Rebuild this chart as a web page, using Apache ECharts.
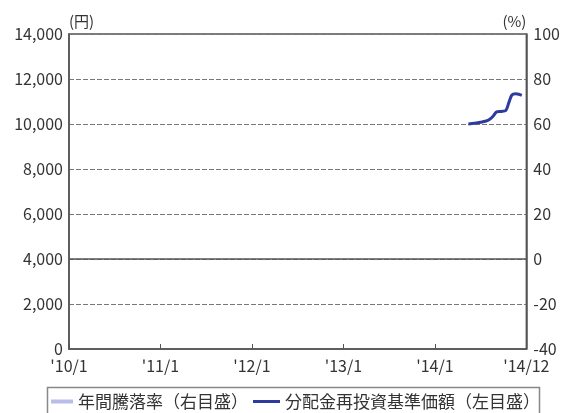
<!DOCTYPE html>
<html><head><meta charset="utf-8">
<script src="https://cdn.jsdelivr.net/npm/echarts@6/dist/echarts.min.js"></script>
<style>html,body{margin:0;padding:0;background:#fff}#c{width:563px;height:413px}</style>
</head><body><div id="c"></div>
<script>
// x in months since 2010/1
var xTickLabels = ["'10/1", "'11/1", "'12/1", "'13/1", "'14/1", "'14/12"];
var navMonths = [52.4, 53.2, 54.0, 54.6, 55.1, 55.6, 56.1, 56.7, 57.3, 57.7, 58.1, 58.6, 59.0, 59.4];
var navValues = [10000, 10030, 10080, 10120, 10190, 10330, 10540, 10560, 10600, 10950, 11290, 11340, 11320, 11270];
var annualReturn = [];
var seriesNames = ['年間騰落率（右目盛）', '分配金再投資基準価額（左目盛）'];

var FONT = '"Noto Sans CJK JP", "Noto Sans", sans-serif';
var navData = navMonths.map(function (m, i) { return [m, navValues[i]]; });

var chart = echarts.init(document.getElementById('c'));
chart.setOption({
  animation: false,
  textStyle: { fontFamily: FONT },
  grid: { left: 69, right: 36, top: 34, bottom: 64, show: true, borderColor: '#555', borderWidth: 1.5 },
  xAxis: {
    type: 'value', min: 0, max: 60, interval: 12,
    axisLine: { lineStyle: { color: '#555', width: 1.5 } },
    axisTick: { inside: true, length: 5, lineStyle: { color: '#555' } },
    splitLine: { show: false },
    axisLabel: { color: '#333', fontSize: 16, margin: 9, fontFamily: FONT,
      formatter: function (v) { return xTickLabels[Math.round(v / 12)]; } }
  },
  yAxis: [{
    type: 'value', min: 0, max: 14000, interval: 2000,
    name: '(円)', nameLocation: 'end', nameGap: 5,
    nameTextStyle: { color: '#333', fontSize: 15, align: 'left', fontFamily: FONT },
    axisLine: { show: true, lineStyle: { color: '#555', width: 1.5 } },
    axisTick: { show: false },
    splitLine: { show: true, lineStyle: { color: '#777', type: [5, 2], width: 1 } },
    axisLabel: { color: '#333', fontSize: 16, margin: 6, fontFamily: FONT,
      formatter: function (v) { return v.toLocaleString('en-US'); } }
  }, {
    type: 'value', min: -40, max: 100, interval: 20, position: 'right',
    name: '(%)', nameLocation: 'end', nameGap: 5,
    nameTextStyle: { color: '#333', fontSize: 15, align: 'right', fontFamily: FONT },
    axisLine: { show: true, lineStyle: { color: '#555', width: 1.5 } },
    axisTick: { show: false },
    splitLine: { show: false },
    axisLabel: { color: '#333', fontSize: 16, margin: 7, fontFamily: FONT }
  }],
  legend: [{
    data: [{ name: seriesNames[0], icon: 'rect' }], left: 51, top: 391.5, padding: 0,
    itemWidth: 22, itemHeight: 4,
    textStyle: { color: '#333', fontSize: 17, lineHeight: 20, fontFamily: FONT }
  }, {
    data: [{ name: seriesNames[1], icon: 'rect' }], left: 253, top: 391.5, padding: 0,
    itemWidth: 27, itemHeight: 3,
    textStyle: { color: '#333', fontSize: 17, lineHeight: 20, fontFamily: FONT }
  }],
  graphic: [{
    type: 'rect', left: 45, top: 385, shape: { x: 0, y: 0, width: 492, height: 40 },
    style: { fill: 'none', stroke: '#888', lineWidth: 1.5 }, silent: true
  }],
  series: [{
    name: seriesNames[0], type: 'bar', yAxisIndex: 1, data: annualReturn,
    itemStyle: { color: '#b9bde8' }
  }, {
    name: seriesNames[1], type: 'line', yAxisIndex: 0, data: navData,
    symbol: 'none', smooth: 0.3,
    lineStyle: { color: '#2e3a9e', width: 3 }, itemStyle: { color: '#2e3a9e' },
    markLine: {
      silent: true, symbol: 'none', label: { show: false },
      lineStyle: { color: '#555', type: 'solid', width: 1.5 },
      data: [{ yAxis: 4000 }]
    }
  }]
});
</script></body></html>
